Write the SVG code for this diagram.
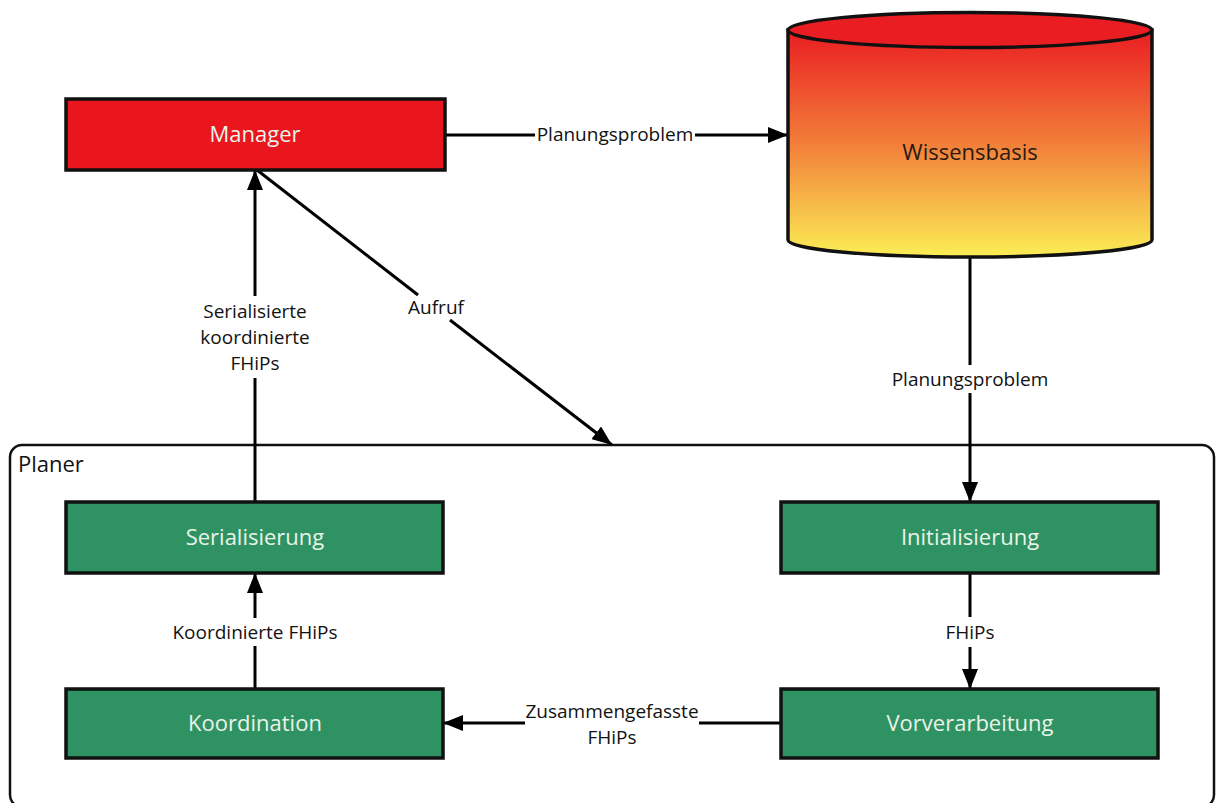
<svg xmlns="http://www.w3.org/2000/svg" width="1217" height="803" viewBox="0 0 1217 803">
  <defs>
    <linearGradient id="kbFill" x1="0" y1="0" x2="0" y2="1">
      <stop offset="0" stop-color="#EA1D22"/>
      <stop offset="0.5" stop-color="#F27E3A"/>
      <stop offset="1" stop-color="#FBEE55"/>
    </linearGradient>
    <marker id="arrow" viewBox="0 0 20 16" refX="20" refY="8" markerWidth="20" markerHeight="16" markerUnits="userSpaceOnUse" orient="auto">
      <path d="M0,0 L20,8 L0,16 Z" fill="#000"/>
    </marker>
  </defs>
  <style>
    .box { stroke: #111; stroke-width: 3.5; }
    .green { fill: #2F9262; }
    .red { fill: #EA161E; }
    .nlabel { font-family: "Open Sans", "Noto Sans", sans-serif; font-size: 22px; fill: #EAF3EA; text-anchor: middle; }
    .elabel { font-family: "Open Sans", "Noto Sans", sans-serif; font-size: 19px; fill: #111; text-anchor: middle; }
    .edge { stroke: #000; stroke-width: 3; fill: none; }
  </style>
  <rect width="1217" height="803" fill="#fff"/>

  <!-- planner container -->
  <g id="planer">
    <rect x="10" y="445" width="1204" height="362" rx="12" ry="12" fill="none" stroke="#111" stroke-width="2.5"/>
    <text x="18" y="472" font-family="Open Sans, Noto Sans, sans-serif" font-size="22" fill="#111">Planer</text>
  </g>

  <!-- connectors -->
  <g id="connectors">
    <path class="edge" d="M445,135 L535,135"/>
    <path class="edge" d="M695,135 L788,135" marker-end="url(#arrow)"/>
    <text class="elabel" x="615" y="141">Planungsproblem</text>

    <path class="edge" d="M970,257 L970,365"/>
    <path class="edge" d="M970,393 L970,502" marker-end="url(#arrow)"/>
    <text class="elabel" x="970" y="386">Planungsproblem</text>

    <path class="edge" d="M970,573 L970,617"/>
    <path class="edge" d="M970,647 L970,689" marker-end="url(#arrow)"/>
    <text class="elabel" x="970" y="639">FHiPs</text>

    <path class="edge" d="M781,723 L699,723"/>
    <path class="edge" d="M525,723 L443,723" marker-end="url(#arrow)"/>
    <text class="elabel" x="612" y="718">Zusammengefasste</text>
    <text class="elabel" x="612" y="744">FHiPs</text>

    <path class="edge" d="M255,689 L255,646"/>
    <path class="edge" d="M255,618 L255,573" marker-end="url(#arrow)"/>
    <text class="elabel" x="255" y="639">Koordinierte FHiPs</text>

    <path class="edge" d="M255,502 L255,378"/>
    <path class="edge" d="M255,296 L255,170" marker-end="url(#arrow)"/>
    <text class="elabel" x="255" y="318">Serialisierte</text>
    <text class="elabel" x="255" y="344">koordinierte</text>
    <text class="elabel" x="255" y="370">FHiPs</text>

    <path class="edge" d="M257,170 L418,295"/>
    <path class="edge" d="M450,320 L612,445" marker-end="url(#arrow)"/>
    <text class="elabel" x="436" y="314">Aufruf</text>
  </g>

  <g id="manager">
    <rect class="box red" x="66" y="99" width="379" height="71"/>
    <text class="nlabel" x="255" y="142" fill="#FBE6E6">Manager</text>
  </g>

  <g id="wissensbasis">
    <path d="M788,30 L788,240 A182,17 0 0 0 1152,240 L1152,30 Z" fill="url(#kbFill)" stroke="#111" stroke-width="3.5"/>
    <ellipse cx="970" cy="30" rx="182" ry="17.5" fill="#EA1D22" stroke="#111" stroke-width="3.5"/>
    <text x="970" y="160" font-family="Open Sans, Noto Sans, sans-serif" font-size="22" fill="#2A1A10" text-anchor="middle">Wissensbasis</text>
  </g>

  <g id="serialisierung">
    <rect class="box green" x="66" y="502" width="377" height="71"/>
    <text class="nlabel" x="255" y="545">Serialisierung</text>
  </g>

  <g id="koordination">
    <rect class="box green" x="66" y="689" width="377" height="69"/>
    <text class="nlabel" x="255" y="731">Koordination</text>
  </g>

  <g id="initialisierung">
    <rect class="box green" x="781" y="502" width="377" height="71"/>
    <text class="nlabel" x="970" y="545">Initialisierung</text>
  </g>

  <g id="vorverarbeitung">
    <rect class="box green" x="781" y="689" width="377" height="69"/>
    <text class="nlabel" x="970" y="731">Vorverarbeitung</text>
  </g>
</svg>
